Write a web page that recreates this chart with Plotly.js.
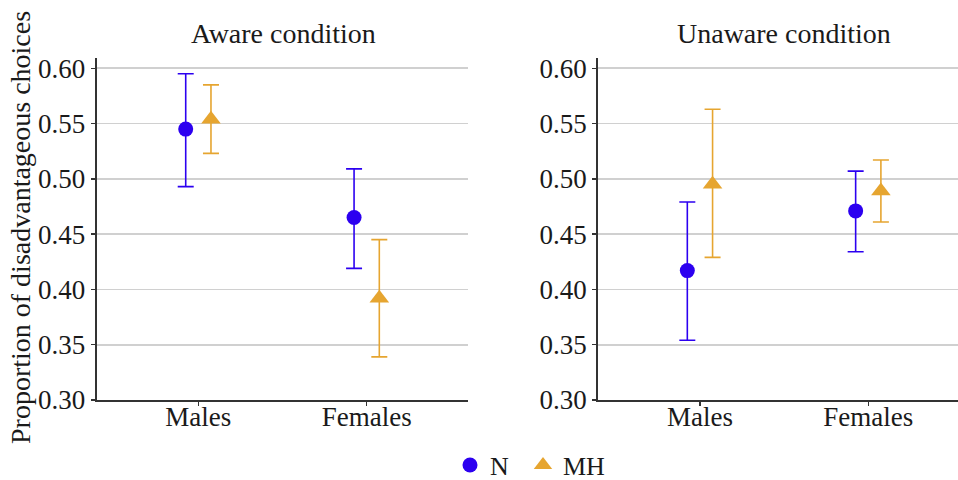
<!DOCTYPE html>
<html>
<head>
<meta charset="utf-8">
<script src="https://cdn.plot.ly/plotly-3.0.1.min.js"></script>
<style>html,body{margin:0;padding:0;background:#fff;}#chart{width:958px;height:480px;}</style>
</head>
<body>
<div id="chart"></div>
<script>
// ---- data ----
const categories = ['Males', 'Females'];
const panelTitles = ['Aware condition', 'Unaware condition'];
const yAxisTitle = 'Proportion of disadvantageous choices';
const groupNames = ['N', 'MH'];
const yTickValues = [0.30, 0.35, 0.40, 0.45, 0.50, 0.55, 0.60];

const awareN      = [0.545, 0.465];
const awareNLow   = [0.493, 0.419];
const awareNHigh  = [0.595, 0.509];
const awareMH     = [0.554, 0.392];
const awareMHLow  = [0.523, 0.339];
const awareMHHigh = [0.585, 0.445];

const unawareN      = [0.417, 0.471];
const unawareNLow   = [0.354, 0.434];
const unawareNHigh  = [0.479, 0.507];
const unawareMH     = [0.495, 0.489];
const unawareMHLow  = [0.429, 0.461];
const unawareMHHigh = [0.563, 0.517];

// ---- styling ----
const FONT = 'Liberation Serif';
const TXT = '#1a1a1a';
const colN = '#2c00f0';
const colMH = '#e6a530';
const dodge = 0.075;

function xs(offset) { return categories.map((c, i) => i + offset); }
function errUp(mean, high) { return mean.map((m, i) => high[i] - m); }
function errDn(mean, low) { return mean.map((m, i) => m - low[i]); }

function trace(mean, low, high, name, color, symbol, size, offset, xa, ya, showlegend, legendId) {
  return {
    type: 'scatter', mode: 'markers', name: name,
    x: xs(offset), y: mean, xaxis: xa, yaxis: ya,
    showlegend: showlegend, legendgroup: name, legend: legendId,
    marker: {color: color, symbol: symbol, size: size},
    error_y: {type: 'data', symmetric: false, array: errUp(mean, high), arrayminus: errDn(mean, low),
              color: color, thickness: 1.6, width: 8}
  };
}

const data = [
  trace(awareN, awareNLow, awareNHigh, groupNames[0], colN, 'circle', 15, -dodge, 'x', 'y', true, 'legend'),
  trace(awareMH, awareMHLow, awareMHHigh, groupNames[1], colMH, 'triangle-up', 17, dodge, 'x', 'y', true, 'legend2'),
  trace(unawareN, unawareNLow, unawareNHigh, groupNames[0], colN, 'circle', 15, -dodge, 'x2', 'y2', false, 'legend'),
  trace(unawareMH, unawareMHLow, unawareMHHigh, groupNames[1], colMH, 'triangle-up', 17, dodge, 'x2', 'y2', false, 'legend2')
];

const yBase = {
  range: [0.30, 0.609], tickvals: yTickValues, ticktext: yTickValues.map(v => v.toFixed(2)),
  showgrid: true, gridcolor: '#d0d0d0', gridwidth: 1.6, zeroline: false,
  showline: true, linecolor: '#333', linewidth: 2,
  ticks: 'outside', ticklen: 4, tickcolor: '#333', tickwidth: 1.5,
  tickfont: {family: FONT, size: 27, color: TXT},
  domain: [0.1667, 0.8785], automargin: false
};
const xBase = {
  tickvals: categories.map((c, i) => i), ticktext: categories,
  showgrid: false, zeroline: false,
  showline: true, linecolor: '#333', linewidth: 2,
  ticks: 'outside', ticklen: 4, tickcolor: '#333', tickwidth: 1.5,
  ticklabelstandoff: -12,
  tickfont: {family: FONT, size: 27, color: TXT}, automargin: false
};

const titleFont = {family: FONT, size: 28, color: TXT};
const legendBase = {orientation: 'h', xanchor: 'left', y: 0.031, yanchor: 'middle',
  font: {family: FONT, size: 26, color: TXT}, bgcolor: 'rgba(0,0,0,0)', itemwidth: 30};

const layout = {
  width: 958, height: 480,
  margin: {l: 0, r: 0, t: 0, b: 0, autoexpand: false},
  paper_bgcolor: '#fff', plot_bgcolor: '#fff',
  font: {family: FONT, color: TXT},
  showlegend: true,
  legend: Object.assign({}, legendBase, {x: 450 / 958}),
  legend2: Object.assign({}, legendBase, {x: 523 / 958}),
  xaxis: Object.assign({}, xBase, {domain: [0.1009, 0.4882], range: [-0.604, 1.6], anchor: 'y'}),
  yaxis: Object.assign({}, yBase, {anchor: 'x'}),
  xaxis2: Object.assign({}, xBase, {domain: [0.6245, 1], range: [-0.604, 1.533], anchor: 'y2'}),
  yaxis2: Object.assign({}, yBase, {anchor: 'x2'}),
  annotations: [
    {text: panelTitles[0], xref: 'paper', yref: 'paper', x: 283 / 958, y: 1 - 34 / 480,
     xanchor: 'center', yanchor: 'middle', showarrow: false, font: titleFont},
    {text: panelTitles[1], xref: 'paper', yref: 'paper', x: 784 / 958, y: 1 - 34 / 480,
     xanchor: 'center', yanchor: 'middle', showarrow: false, font: titleFont},
    {text: yAxisTitle, xref: 'paper', yref: 'paper', x: 20 / 958, y: 1 - 228 / 480,
     xanchor: 'center', yanchor: 'middle', textangle: -90, showarrow: false, font: titleFont}
  ],
  hovermode: false
};

Plotly.newPlot('chart', data, layout, {staticPlot: true, displayModeBar: false});
</script>
</body>
</html>
